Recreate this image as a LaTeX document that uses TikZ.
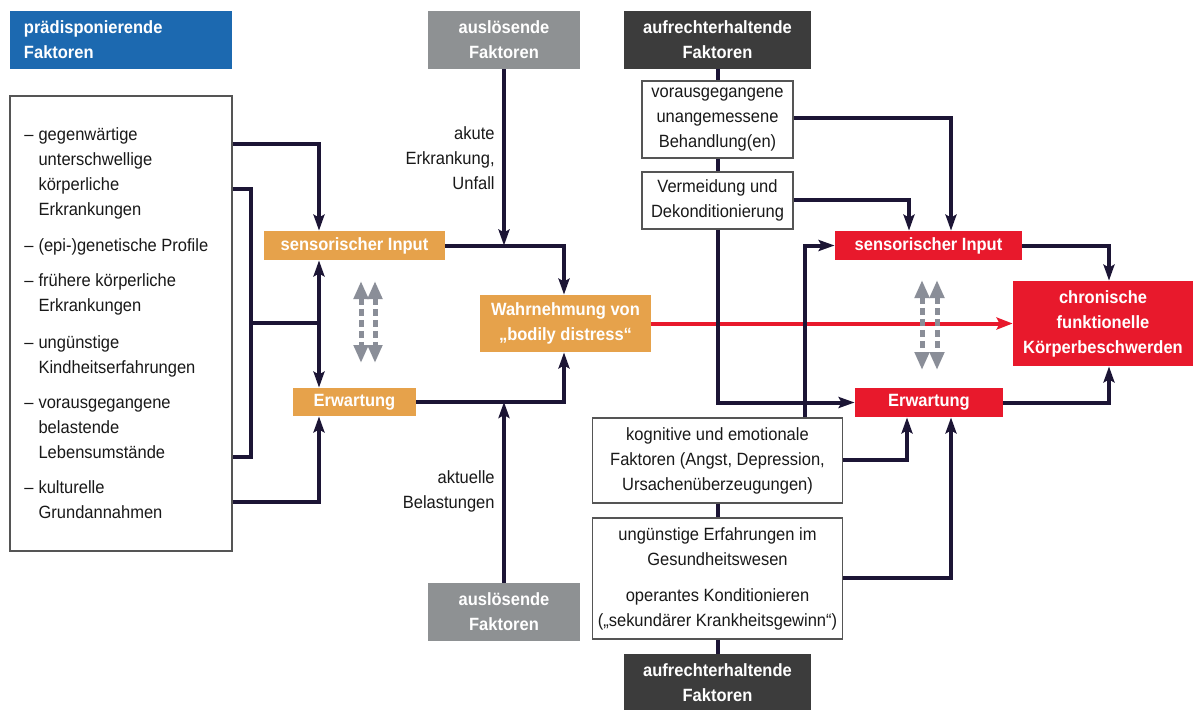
\documentclass[tikz,border=0pt]{standalone}
\usepackage{fontspec}
\setmainfont{Liberation Sans}[FakeStretch=0.93]
\usetikzlibrary{arrows.meta}
\newcommand\myfs{\fontsize{8.87pt}{12.5pt}\selectfont}
\definecolor{cblue}{HTML}{1C69B0}
\definecolor{cgray}{HTML}{8E9193}
\definecolor{cdark}{HTML}{3C3C3C}
\definecolor{corange}{HTML}{E6A24B}
\definecolor{cred}{HTML}{E8192C}
\definecolor{cnavy}{HTML}{1C1535}
\definecolor{cdash}{HTML}{8A8E98}
\definecolor{cboxline}{HTML}{555555}
\tikzset{
  wbox/.style={draw=cboxline, line width=0.7pt, fill=white, font=\myfs, text=black!90, align=center, inner sep=0pt},
  hdr/.style={font=\myfs\bfseries, text=white, align=center, inner sep=0pt},
  ln/.style={line width=2pt, draw=cnavy, line join=miter},
  arr/.style={ln, -{Stealth[length=8pt,width=5.5pt,inset=1.5pt]}},
  redarr/.style={line width=2pt, draw=cred, -{Stealth[length=8pt,width=6pt,inset=1.5pt]}},
  dbl/.style={line width=2.5pt, draw=cdash, dash pattern=on 3.5pt off 2pt,
     {Triangle[length=9pt,width=7pt]}-{Triangle[length=9pt,width=7pt]}},
  lbl/.style={font=\myfs, text=black!90, align=right, inner sep=0pt, anchor=east}
}
\begin{document}
\begin{tikzpicture}[x=0.5pt,y=-0.5pt]
\useasboundingbox (0,0) rectangle (1195,709);
\fill[white] (0,0) rectangle (1195,709);

% headers
\node[hdr, fill=cblue, minimum width=111pt, minimum height=29pt, align=left, text width=97pt, inner xsep=7pt] (pred) at (121,40) {prädisponierende\\Faktoren};
\node[hdr, fill=cgray, minimum width=76pt, minimum height=29pt] (auslT) at (504,40) {auslösende\\Faktoren};
\node[hdr, fill=cgray, minimum width=76pt, minimum height=29pt] (auslB) at (504,612) {auslösende\\Faktoren};
\node[hdr, fill=cdark, minimum width=93.5pt, minimum height=29pt] (aufrT) at (717.5,40) {aufrechterhaltende\\Faktoren};
\node[hdr, fill=cdark, minimum width=93.5pt, minimum height=29pt] (aufrB) at (717.5,683) {aufrechterhaltende\\Faktoren};

% left list
\node[wbox, minimum width=111pt, minimum height=227.5pt] (lbox) at (121,323.5) {};
\node[font=\myfs, text=black!90, inner sep=0pt, anchor=west] (list) at (24,324.5) {%
\begin{tabular}{@{}l@{\hspace{2.5pt}}l@{}}
–&gegenwärtige\\
&unterschwellige\\
&körperliche\\
&Erkrankungen\\[5.5pt]
–&(epi-)genetische Profile\\[5pt]
–&frühere körperliche\\
&Erkrankungen\\[6pt]
–&ungünstige\\
&Kindheitserfahrungen\\[5pt]
–&vorausgegangene\\
&belastende\\
&Lebensumstände\\[5pt]
–&kulturelle\\
&Grundannahmen
\end{tabular}};

% orange
\node[hdr, fill=corange, minimum width=90.5pt, minimum height=14.5pt] (sensL) at (354.5,245.5) {sensorischer Input};
\node[hdr, fill=corange, minimum width=61.5pt, minimum height=14pt] (erwL) at (354.5,402) {Erwartung};
\node[hdr, fill=corange, minimum width=85.5pt, minimum height=28.5pt] (wahr) at (565.5,323.5) {Wahrnehmung von\\„bodily distress“};

% right white boxes
\node[wbox, minimum width=75.5pt, minimum height=38.5pt] (behand) at (717.5,119.5) {vorausgegangene\\unangemessene\\Behandlung(en)};
\node[wbox, minimum width=75.5pt, minimum height=28.5pt] (verm) at (717.5,200.5) {Vermeidung und\\Dekonditionierung};
\node[wbox, minimum width=125pt, minimum height=42.5pt] (kogn) at (717.5,460.5) {kognitive und emotionale\\Faktoren (Angst, Depression,\\Ursachenüberzeugungen)};
\node[wbox, minimum width=125pt, minimum height=60.5pt] (ungun) at (717.5,578.5) {ungünstige Erfahrungen im\\Gesundheitswesen\\[5.5pt]operantes Konditionieren\\(„sekundärer Krankheitsgewinn“)};

% red
\node[hdr, fill=cred, minimum width=93.5pt, minimum height=14.5pt] (sensR) at (928.5,245.5) {sensorischer Input};
\node[hdr, fill=cred, minimum width=74pt, minimum height=14.5pt] (erwR) at (929,402.5) {Erwartung};
\node[hdr, fill=cred, minimum width=90pt, minimum height=42.5pt] (chron) at (1103,323.5) {chronische\\funktionelle\\Körperbeschwerden};

% labels
\node[lbl] (lakut) at (495,158) {akute\\Erkrankung,\\Unfall};
\node[lbl] (lakt) at (495,491.5) {aktuelle\\Belastungen};

% left connectors
\coordinate (jL) at (319,323);
\coordinate (bL) at (251,323);
\draw[arr] (lbox.east |- 0,144) -| (sensL.north -| jL);
\draw[ln] (lbox.east |- 0,189) -| (bL) |- (lbox.east |- 0,457);
\draw[ln] (bL) -- (jL);
\draw[arr] (jL) -- (sensL.south -| jL);
\draw[arr] (jL) -- (erwL.north -| jL);
\draw[arr] (lbox.east |- 0,502) -| (erwL.south -| jL);

% middle connectors
\draw[arr] (sensL.east) -| (wahr.north -| 564,0);
\draw[arr] (auslT.south) -- (auslT.south |- sensL.east);
\draw[arr] (erwL.east) -| (wahr.south -| 564,0);
\draw[arr] (auslB.north) -- (auslB.north |- erwL.east);

% red main arrow
\draw[redarr] (wahr.east) -- (chron.west);

% right connectors
\draw[ln] (aufrT.south) -- (behand.north);
\draw[ln] (behand.south) -- (verm.north);
\draw[arr] (verm.south) |- (erwR.west);
\draw[ln] (kogn.south) -- (ungun.north);
\draw[ln] (ungun.south) -- (aufrB.north);
\draw[arr] (behand.east |- 0,118) -| (sensR.north -| 951,0);
\draw[arr] (verm.east |- 0,200) -| (sensR.north -| 909,0);
\draw[arr] (kogn.north -| 805,0) |- (sensR.west);
\draw[arr] (kogn.east |- 0,460) -| (erwR.south -| 907,0);
\draw[arr] (ungun.east |- 0,578) -| (erwR.south -| 951,0);
\draw[arr] (sensR.east) -| (chron.north -| 1109,0);
\draw[arr] (erwR.east) -| (chron.south -| 1109,0);

% dashed double arrows
\coordinate (dA1) at (361,281); \coordinate (dA2) at (361,363);
\coordinate (dB1) at (375,281); \coordinate (dB2) at (375,363);
\coordinate (dC1) at (922,280); \coordinate (dC2) at (922,370);
\coordinate (dD1) at (937,280); \coordinate (dD2) at (937,370);
\draw[dbl] (dA1) -- (dA2);
\draw[dbl] (dB1) -- (dB2);
\draw[dbl] (dC1) -- (dC2);
\draw[dbl] (dD1) -- (dD2);
\end{tikzpicture}
\end{document}
